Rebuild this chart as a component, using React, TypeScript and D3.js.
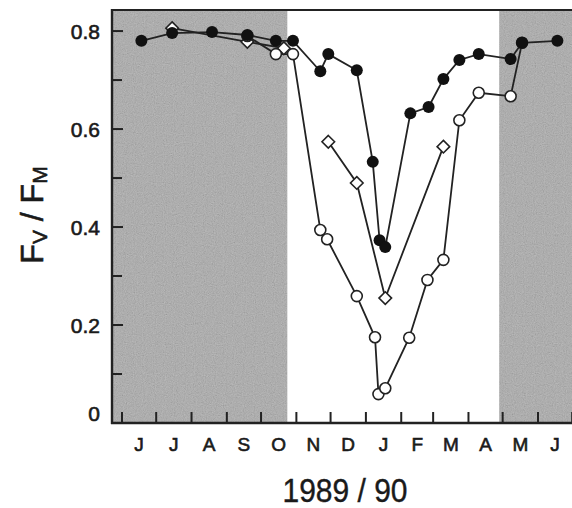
import React from "react";
import * as d3 from "d3";

const monthLabels = ["J", "J", "A", "S", "O", "N", "D", "J", "F", "M", "A", "M", "J"];
const yMajorTicks = [0, 0.2, 0.4, 0.6, 0.8];
const yMinorTicks = [0.1, 0.3, 0.5, 0.7];
const yTickLabels = ["0", "0.2", "0.4", "0.6", "0.8"];

const filledDates = ["1989-06-18", "1989-07-15", "1989-08-19", "1989-09-19", "1989-10-14", "1989-10-29", "1989-11-22", "1989-11-29", "1989-12-24", "1990-01-07", "1990-01-13", "1990-01-18", "1990-02-09", "1990-02-25", "1990-03-10", "1990-03-24", "1990-04-10", "1990-05-08", "1990-05-18", "1990-06-18"];
const filledValues = [0.78, 0.796, 0.798, 0.792, 0.78, 0.78, 0.718, 0.753, 0.72, 0.533, 0.373, 0.359, 0.632, 0.645, 0.702, 0.741, 0.753, 0.743, 0.776, 0.78];

const openDates = ["1989-09-19", "1989-10-14", "1989-10-29", "1989-11-22", "1989-11-28", "1989-12-24", "1990-01-09", "1990-01-12", "1990-01-18", "1990-02-08", "1990-02-24", "1990-03-10", "1990-03-24", "1990-04-10", "1990-05-08", "1990-05-18"];
const openValues = [0.79, 0.753, 0.753, 0.394, 0.375, 0.259, 0.175, 0.059, 0.071, 0.174, 0.292, 0.333, 0.618, 0.674, 0.667, 0.776];

const diamondDates = ["1989-07-15", "1989-09-19", "1989-10-21", null, "1989-11-29", "1989-12-24", "1990-01-18", "1990-03-10"];
const diamondValues = [0.806, 0.778, 0.765, null, 0.574, 0.49, 0.255, 0.564];

const shadedPeriods = [
  ["1989-05-01", "1989-10-24"],
  ["1990-04-28", "1990-08-01"],
];

const W = 572;
const H = 508;
const left = 112;
const right = 572;
const top = 10;
const bottom = 423;

const parse = (s: string) => new Date(s + "T00:00:00");

export default function App() {
  const x = d3.scaleTime().domain([parse("1989-06-01"), parse("1990-06-01")]).range([122, 538]);
  const y = d3.scaleLinear().domain([0, 0.843]).range([bottom, top]);

  const months = d3.timeMonth.range(parse("1989-06-01"), parse("1990-07-01"));
  const tickMonths = d3.timeMonth.range(parse("1989-06-01"), parse("1990-07-02"));

  const filled = filledDates.map((d, i) => ({ x: x(parse(d)), y: y(filledValues[i]) }));
  const open = openDates.map((d, i) => ({ x: x(parse(d)), y: y(openValues[i]) }));
  const diamonds = diamondDates.map((d, i) =>
    d === null ? null : { x: x(parse(d)), y: y(diamondValues[i] as number) }
  );

  const line = d3
    .line<any>()
    .defined((p) => p !== null)
    .x((p) => p.x)
    .y((p) => p.y);

  const font = "'Liberation Sans', Arial, Helvetica, sans-serif";
  const ds = 6.3;
  const ink = "#1a1a1a";

  return (
    <svg width={W} height={H} style={{ position: "absolute", left: 0, top: 0, background: "#fff" }}>
      <defs>
        <clipPath id="plot">
          <rect x={left} y={top} width={right - left} height={bottom - top} />
        </clipPath>
        <filter id="noise" x="0" y="0" width="100%" height="100%">
          <feTurbulence type="fractalNoise" baseFrequency="0.9" numOctaves="2" seed="3" result="t" />
          <feColorMatrix
            type="matrix"
            values="0.33 0.33 0.33 0 0  0.33 0.33 0.33 0 0  0.33 0.33 0.33 0 0  0 0 0 0 0.35"
          />
          <feComposite operator="in" in2="SourceGraphic" />
        </filter>
      </defs>
      <g clipPath="url(#plot)">
        {shadedPeriods.map(([a, b], i) => (
          <g key={i}>
            <rect
              x={x(parse(a))}
              y={top}
              width={x(parse(b)) - x(parse(a))}
              height={bottom - top}
              fill="#a6a6a6"
            />
            <rect
              x={x(parse(a))}
              y={top}
              width={x(parse(b)) - x(parse(a))}
              height={bottom - top}
              fill="#fff"
              filter="url(#noise)"
            />
          </g>
        ))}
      </g>

      {/* axes frame */}
      <line x1={left} x2={right} y1={top} y2={top} stroke="#222" strokeWidth={2.2} />
      <line x1={left} x2={left} y1={top - 1} y2={bottom + 1} stroke="#222" strokeWidth={2.4} />
      <line x1={left - 1} x2={right} y1={bottom} y2={bottom} stroke="#222" strokeWidth={2.4} />

      {/* y ticks */}
      {yMajorTicks.map((v, i) => (
        <g key={"ym" + i}>
          {v > 0 && <line x1={left} x2={left + 11} y1={y(v)} y2={y(v)} stroke="#222" strokeWidth={2} />}
          <text
            x={100}
            y={v === 0 ? y(v) - 2 : y(v) + 7.5}
            textAnchor="end"
            fontFamily={font}
            fontSize={21}
            fill={ink}
            stroke={ink}
            strokeWidth={0.6}
          >
            {yTickLabels[i]}
          </text>
        </g>
      ))}
      {yMinorTicks.map((v, i) => (
        <line key={"yn" + i} x1={left} x2={left + 10} y1={y(v)} y2={y(v)} stroke="#222" strokeWidth={2} />
      ))}

      {/* x ticks */}
      {tickMonths.map((m, i) => (
        <line key={"xt" + i} x1={x(m)} x2={x(m)} y1={bottom} y2={bottom - 11} stroke="#222" strokeWidth={2} />
      ))}
      {months.map((m, i) => {
        const mid = new Date((m.getTime() + d3.timeMonth.offset(m, 1).getTime()) / 2);
        return (
          <text
            key={"xl" + i}
            x={x(mid)}
            y={451}
            textAnchor="middle"
            fontFamily={font}
            fontSize={19}
            fill={ink}
            stroke={ink}
            strokeWidth={0.6}
          >
            {monthLabels[i]}
          </text>
        );
      })}

      {/* series */}
      <g clipPath="url(#plot)">
        <path d={line(diamonds) || ""} fill="none" stroke="#222" strokeWidth={1.8} />
        <path d={line(open) || ""} fill="none" stroke="#222" strokeWidth={1.8} />
        <path d={line(filled) || ""} fill="none" stroke="#222" strokeWidth={1.8} />
        {diamonds.map((p, i) =>
          p === null ? null : (
            <path
              key={"d" + i}
              d={`M${p.x},${p.y - ds}L${p.x + ds},${p.y}L${p.x},${p.y + ds}L${p.x - ds},${p.y}Z`}
              fill="#fff"
              stroke="#222"
              strokeWidth={1.6}
            />
          )
        )}
        {open.map((p, i) => (
          <circle key={"o" + i} cx={p.x} cy={p.y} r={5.5} fill="#fff" stroke="#222" strokeWidth={1.6} />
        ))}
        {filled.map((p, i) => (
          <circle key={"f" + i} cx={p.x} cy={p.y} r={6} fill="#111" />
        ))}
      </g>

      {/* y label */}
      <text
        transform="translate(43,215) rotate(-90)"
        textAnchor="middle"
        fontFamily={font}
        fontSize={32}
        fill={ink}
        stroke={ink}
        strokeWidth={0.6}
      >
        <tspan>F</tspan>
        <tspan fontSize={21} dy={4}>V</tspan>
        <tspan dy={-4}> / F</tspan>
        <tspan fontSize={21} dy={4}>M</tspan>
      </text>

      {/* x label */}
      <text
        x={345}
        y={502}
        textAnchor="middle"
        fontFamily={font}
        fontSize={33}
        textLength={125}
        lengthAdjust="spacingAndGlyphs"
        fill={ink}
        stroke={ink}
        strokeWidth={0.4}
      >
        1989 / 90
      </text>
    </svg>
  );
}
